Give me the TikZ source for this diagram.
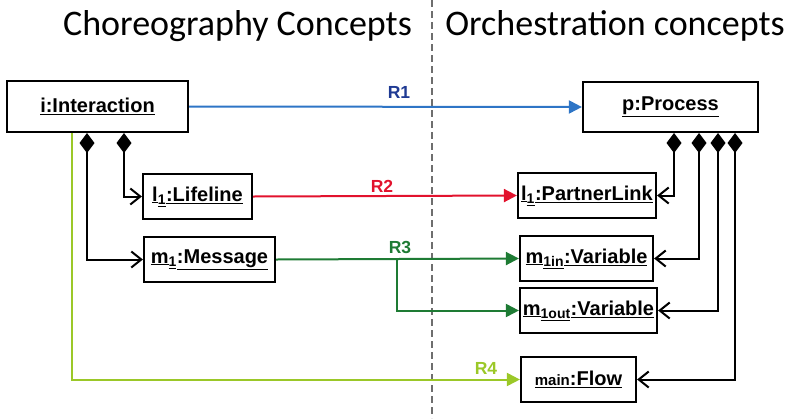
\documentclass[tikz,border=0pt]{standalone}
\usepackage{fontspec}
\setmainfont{Liberation Sans}
\newfontfamily\titlefont{Carlito}
\usetikzlibrary{arrows.meta}
\definecolor{rone}{RGB}{46,117,198}
\definecolor{ronelab}{RGB}{31,58,147}
\definecolor{rtwo}{RGB}{226,18,45}
\definecolor{rthree}{RGB}{30,123,52}
\definecolor{rfour}{RGB}{155,200,40}
\definecolor{divgray}{RGB}{110,110,110}
\tikzset{
  obj/.style={draw=black, line width=2.2pt, fill=white, inner sep=0pt, font=\fontsize{20}{20}\selectfont\bfseries},
  comp/.style={draw=black, line width=2pt, {Diamond[length=20pt,width=15pt,line width=1pt]}-{Straight Barb[length=10pt,width=16pt,line width=2pt]}},
  rel/.style={line width=2pt, -{Triangle[length=13pt,width=13pt]}},
  rlab/.style={font=\fontsize{17.5}{17.5}\selectfont\bfseries, inner sep=0pt},
  ttl/.style={font=\titlefont\fontsize{36}{36}\selectfont, inner sep=0pt, anchor=base}
}
\begin{document}
\begin{tikzpicture}[x=1pt,y=-1pt]
\useasboundingbox (0,0) rectangle (791,418);
% divider
\coordinate (dtop) at (432,0);
\coordinate (dbot) at (432,418);
\draw[divgray, line width=1.3pt, dash pattern=on 7pt off 4pt] (dtop) -- (dbot);
% titles
\node[ttl] (t1) at (237.5,35) {Choreography Concepts};
\node[ttl] (t2) at (615,35) {Orchestration concepts};
% boxes
\node[obj, minimum width=181pt, minimum height=51pt] (inter) at (97.5,106.5) {\underline{i:Interaction}};
\node[obj, minimum width=109pt, minimum height=45pt] (life) at (197.5,196.5) {\underline{l}\textsubscript{\underline{1}}\underline{:Lifeline}};
\node[obj, minimum width=131pt, minimum height=45pt] (msg) at (209.5,259.5) {\underline{m}\textsubscript{\underline{1}}\underline{:Message}};
\node[obj, minimum width=175pt, minimum height=50pt] (proc) at (670.5,107) {\underline{p:Process}};
\node[obj, minimum width=138pt, minimum height=45pt] (plink) at (587,195.5) {\underline{l}\textsubscript{\underline{1}}\underline{:PartnerLink}};
\node[obj, minimum width=133pt, minimum height=45pt] (vin) at (586.5,258.5) {\underline{m}\textsubscript{\underline{1in}}\underline{:Variable}};
\node[obj, minimum width=137pt, minimum height=45pt] (vout) at (588.5,310.5) {\underline{m}\textsubscript{\underline{1out}}\underline{:Variable}};
\node[obj, minimum width=115pt, minimum height=45pt] (flow) at (578.5,379.5) {\underline{{\fontsize{15}{15}\selectfont main}:Flow}};
% helper coordinates
\coordinate (cl1) at (87,133);
\coordinate (cl2) at (124,133);
\coordinate (r4s) at (72,133);
\coordinate (cp1) at (674,133);
\coordinate (cp2) at (699,133);
\coordinate (cp3) at (718,133);
\coordinate (cp4) at (735,133);
\coordinate (r3b) at (397,259);
% compositions left
\draw[comp] (cl2) |- (life.west);
\draw[comp] (cl1) |- (msg.west);
% compositions right
\draw[comp] (cp1) |- (plink.east);
\draw[comp] (cp2) |- (vin.east);
\draw[comp] (cp3) |- (vout.east);
\draw[comp] (cp4) |- (flow.east);
% relations
\draw[rel, rone] (inter.east) -- (proc.west);
\node[rlab, text=ronelab] (l1) at (399,92) {R1};
\draw[rel, rtwo] (life.east) -- (plink.west);
\node[rlab, text=rtwo] (l2) at (382,186) {R2};
\draw[rel, rthree] (msg.east) -- (vin.west);
\draw[rel, rthree] (r3b) |- (vout.west);
\node[rlab, text=rthree] (l3) at (400,247) {R3};
\draw[rel, rfour] (r4s) |- (flow.west);
\node[rlab, text=rfour] (l4) at (486,368) {R4};
\end{tikzpicture}
\end{document}
